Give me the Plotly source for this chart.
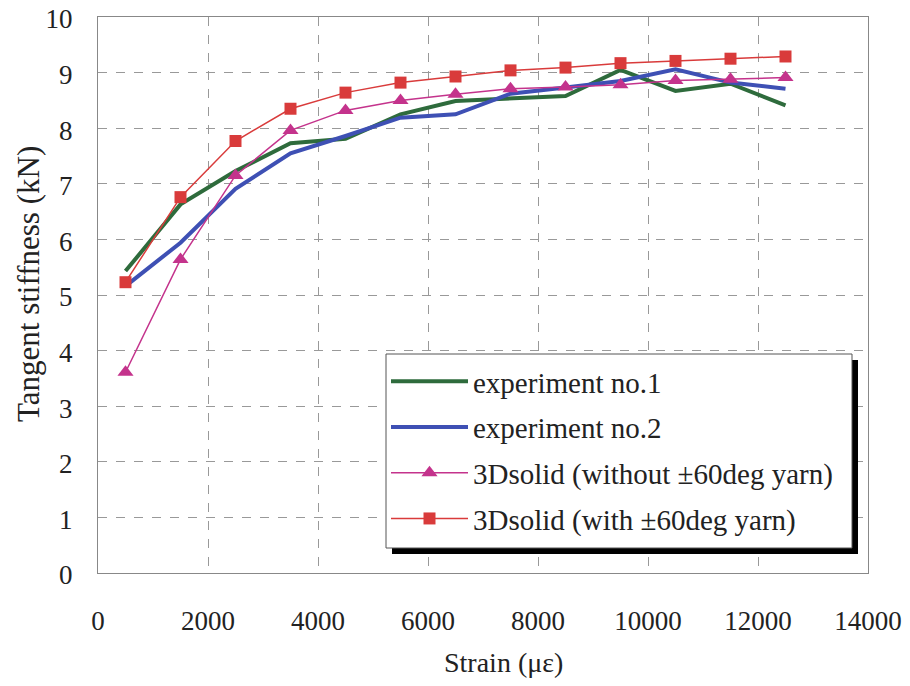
import plotly.graph_objects as go

strain = [500, 1500, 2500, 3500, 4500, 5500, 6500, 7500, 8500, 9500, 10500, 11500, 12500]
exp1 = [5.43, 6.63, 7.23, 7.73, 7.81, 8.25, 8.49, 8.54, 8.58, 9.05, 8.67, 8.80, 8.41]
exp2 = [5.16, 5.94, 6.91, 7.55, 7.86, 8.19, 8.25, 8.62, 8.73, 8.85, 9.06, 8.82, 8.71]
solid_without = [3.61, 5.64, 7.15, 7.96, 8.32, 8.50, 8.61, 8.71, 8.74, 8.78, 8.86, 8.88, 8.91]
solid_with = [5.23, 6.76, 7.77, 8.35, 8.64, 8.82, 8.93, 9.04, 9.09, 9.17, 9.21, 9.25, 9.29]

names = ["experiment no.1", "experiment no.2",
         "3Dsolid (without ±60deg yarn)", "3Dsolid (with ±60deg yarn)"]
x_ticks = [0, 2000, 4000, 6000, 8000, 10000, 12000, 14000]
y_ticks = list(range(0, 11))

FONT = "Liberation Serif, Times New Roman, serif"
TXT = "#222"

fig = go.Figure()
fig.add_trace(go.Scatter(x=strain, y=exp1, name=names[0], mode="lines", legendgroup="a",
                         line=dict(color="#2E6B3C", width=4)))
fig.add_trace(go.Scatter(x=strain, y=exp2, name=names[1], mode="lines", legendgroup="b",
                         line=dict(color="#3E50B4", width=4)))
fig.add_trace(go.Scatter(x=strain, y=solid_without, name=names[2], mode="lines+markers",
                         legendgroup="c",
                         line=dict(color="#C4338C", width=1.5),
                         marker=dict(symbol="triangle-up", size=14, color="#C4338C")))
fig.add_trace(go.Scatter(x=strain, y=solid_with, name=names[3], mode="lines+markers",
                         legendgroup="d",
                         line=dict(color="#D93B3B", width=1.5),
                         marker=dict(symbol="square", size=12, color="#D93B3B")))

# page offset (browser body margin)
OFF = 8
W, H = 910, 686
PL, PR, PT, PB = 98, 868, 17, 573   # target plot box in page pixels
L = PL - OFF
T = PT - OFF
pw, ph = PR - PL, PB - PT
R = W - L - pw
B = H - T - ph

def px_x(p):
    return (p - PL) / pw

def px_y(p):
    return (PB - p) / ph

# legend box: shadow + white frame
fig.add_shape(type="rect", xref="paper", yref="paper",
              x0=px_x(392), x1=px_x(858), y0=px_y(554), y1=px_y(360),
              fillcolor="black", line=dict(width=0), layer="above")
fig.add_shape(type="rect", xref="paper", yref="paper",
              x0=px_x(386), x1=px_x(852), y0=px_y(548), y1=px_y(354),
              fillcolor="white", line=dict(color="#555", width=1), layer="above")

fig.update_layout(
    width=W, height=H,
    margin=dict(l=L, r=R, t=T, b=B, autoexpand=False),
    paper_bgcolor="white", plot_bgcolor="white",
    font=dict(family=FONT, size=27, color=TXT),
    showlegend=True,
    legend=dict(x=px_x(386), y=px_y(356), xanchor="left", yanchor="top",
                bgcolor="rgba(0,0,0,0)", borderwidth=0,
                font=dict(family=FONT, size=29, color=TXT),
                tracegroupgap=5, itemwidth=77),
    xaxis=dict(range=[0, 14000], tickvals=x_ticks, ticktext=[str(v) for v in x_ticks],
               showgrid=True, gridcolor="#999", griddash="dash", gridwidth=1,
               showline=True, linecolor="#888", linewidth=1, mirror=True,
               ticks="", ticklabelstandoff=24, zeroline=False, automargin=False,
               ticklabeloverflow="allow",
               tickfont=dict(family=FONT, size=27, color=TXT)),
    yaxis=dict(range=[0, 10], tickvals=y_ticks, ticktext=[str(v) for v in y_ticks],
               showgrid=True, gridcolor="#999", griddash="dash", gridwidth=1,
               showline=True, linecolor="#888", linewidth=1, mirror=True,
               ticks="", ticklabelstandoff=19, ticklabelshift=2,
               zeroline=False, automargin=False,
               ticklabeloverflow="allow",
               tickfont=dict(family=FONT, size=27, color=TXT)),
    annotations=[
        dict(text="Strain (με)", xref="paper", yref="paper",
             x=px_x(504), y=px_y(663), xanchor="center", yanchor="middle",
             showarrow=False, font=dict(family=FONT, size=28, color=TXT)),
        dict(text="Tangent stiffness (kN)", xref="paper", yref="paper",
             x=px_x(28), y=px_y(284), xanchor="center", yanchor="middle",
             textangle=-90, showarrow=False, font=dict(family=FONT, size=31, color=TXT)),
    ],
)

fig.write_html("out.html")
